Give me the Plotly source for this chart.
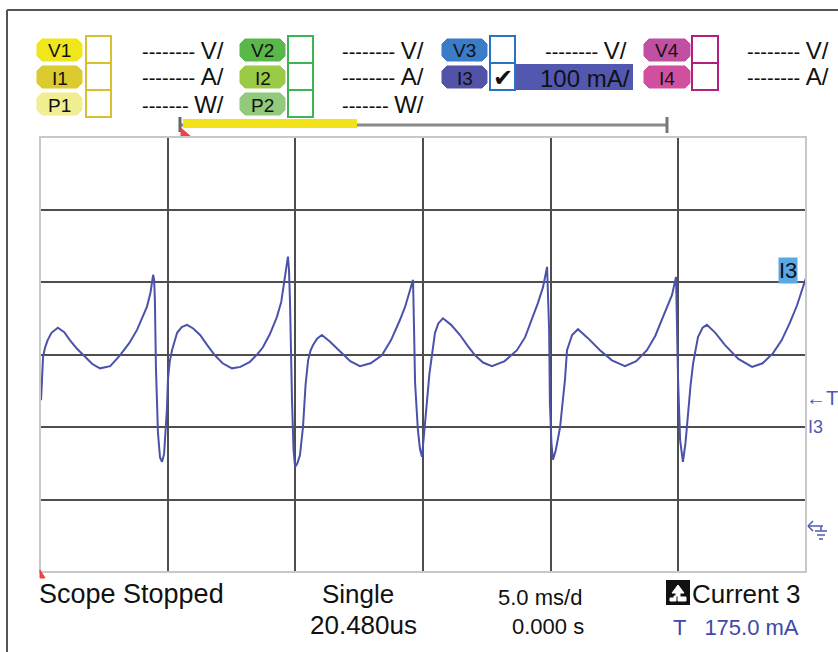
import plotly.graph_objects as go

# ---- data (time in ms, current in mA) ----
time_ms = [0.04, 0.08, 0.12, 0.20, 0.30, 0.45, 0.70, 0.95, 1.17, 1.45, 1.76, 2.05, 2.35, 2.75, 3.13, 3.50,
           3.80, 4.05, 4.19, 4.33, 4.43, 4.47, 4.50, 4.54, 4.62, 4.70, 4.78, 4.86, 4.93, 4.97, 5.01, 5.08,
           5.17, 5.37, 5.55, 5.76, 6.00, 6.27, 6.55, 6.85, 7.15, 7.52, 7.85, 8.22, 8.50, 8.73, 9.00, 9.28,
           9.45, 9.52, 9.62, 9.71, 9.75, 9.79, 9.87, 9.93, 9.99, 10.08, 10.18, 10.30, 10.40, 10.50, 10.60,
           10.69, 10.85, 11.04, 11.35, 11.75, 12.15, 12.53, 12.95, 13.39, 13.75, 14.10, 14.30, 14.41, 14.55,
           14.61, 14.65, 14.69, 14.80, 14.88, 14.96, 15.06, 15.16, 15.25, 15.35, 15.47, 15.60, 15.78, 16.10,
           16.45, 16.75, 17.04, 17.35, 17.70, 18.20, 18.68, 19.00, 19.31, 19.50, 19.70, 19.80, 19.86, 19.94,
           19.97, 20.03, 20.09, 20.20, 20.37, 20.48, 20.56, 20.64, 20.84, 21.07, 21.45, 21.93, 22.40, 22.91,
           23.35, 23.77, 24.10, 24.40, 24.60, 24.75, 24.91, 24.95, 24.99, 25.07, 25.18, 25.28, 25.38, 25.48,
           25.58, 25.77, 25.95, 26.12, 26.45, 26.83, 27.35, 27.89, 28.30, 28.71, 29.05, 29.37, 29.65, 29.88,
           30.0]
current_mA = [179, 215, 239, 252, 262, 272, 279, 273, 262, 250, 239, 229, 223, 226, 241, 258,
              276, 295, 308, 328, 352, 345, 317, 225, 134, 100, 94, 105, 140, 166, 207, 232,
              248, 272, 280, 283, 278, 269, 255, 241, 230, 223, 225, 232, 242, 252, 270, 294,
              315, 331, 355, 377, 360, 317, 179, 110, 87, 92, 103, 142, 200, 234, 248,
              255, 264, 269, 260, 246, 233, 226, 230, 241, 262, 290, 308, 321, 338,
              345, 276, 203, 138, 112, 101, 135, 179, 215, 239, 272, 285, 292, 283,
              269, 254, 241, 231, 226, 233, 248, 266, 294, 313, 335, 352, 363, 276,
              175, 120, 97, 110, 142, 180, 207, 248, 269, 277, 265, 248, 234, 226,
              233, 248, 268, 294, 312, 324, 349, 276, 207, 124, 94, 120, 161, 200,
              230, 266, 279, 283, 272, 255, 236, 225, 230, 244, 262, 286, 310, 335,
              348]

channels_row1 = ["V1", "V2", "V3", "V4"]
channels_row2 = ["I1", "I2", "I3", "I4"]
channels_row3 = ["P1", "P2"]
i3_scale = "100 mA/"
timebase = "5.0 ms/d"
trigger_level = "175.0 mA"

W, H = 838, 652
L, R, T, B = 40, 806, 137, 572
FONT = "Liberation Sans, Arial, sans-serif"


def X(px):
    return (px - L) / (R - L)


def Y(py):
    return (B - py) / (B - T)


fig = go.Figure()
fig.add_trace(go.Scatter(x=time_ms, y=current_mA, mode="lines",
                         line=dict(color="#4a52aa", width=2), hoverinfo="skip",
                         showlegend=False))

shapes = []
ann = []


def rect(x0, y0, x1, y1, fill=None, line=None, lw=1.5, layer="above"):
    shapes.append(dict(type="rect", xref="paper", yref="paper", x0=X(x0), x1=X(x1), y0=Y(y1), y1=Y(y0),
                       fillcolor=fill if fill else "rgba(0,0,0,0)",
                       line=dict(color=line if line else "rgba(0,0,0,0)", width=lw if line else 0),
                       layer=layer))


def seg(x0, y0, x1, y1, color, w):
    shapes.append(dict(type="line", xref="paper", yref="paper", x0=X(x0), x1=X(x1), y0=Y(y0), y1=Y(y1),
                       line=dict(color=color, width=w), layer="above"))


def poly(pts, fill, line=None):
    p = "M " + " L ".join(f"{X(a):.5f},{Y(b):.5f}" for a, b in pts) + " Z"
    shapes.append(dict(type="path", xref="paper", yref="paper", path=p, fillcolor=fill,
                       line=dict(color=line if line else fill, width=1), layer="above"))


def text(px, py, s, size, color="#111", xanchor="center", bg=None, font=FONT):
    ann.append(dict(x=X(px), y=Y(py), xref="paper", yref="paper", text=s, showarrow=False,
                    xanchor=xanchor, yanchor="middle", font=dict(family=font, size=size, color=color),
                    bgcolor=bg, borderpad=0))


def badge(x0, x1, y0, y1, fill, label):
    c = 5
    poly([(x0 + c, y0), (x1 - c, y0), (x1, y0 + c), (x1, y1 - c), (x1 - c, y1), (x0 + c, y1),
          (x0, y1 - c), (x0, y0 + c)], fill)
    text((x0 + x1) / 2, (y0 + y1) / 2 + 1, label, 19, "#111")


# outer frame
seg(7, 10, 838, 10, "#555", 2)
seg(7, 10, 7, 652, "#555", 2)

# header badges
cols = [(37, 82, 86, 111, 225), (240, 285, 288, 313, 425), (442, 487, 490, 515, 628), (644, 690, 692, 718, 830)]
rows = [(39, 61), (66, 88), (93, 115)]
fills = {
    "V1": "#f0e61c", "I1": "#dccb2e", "P1": "#f2ee92",
    "V2": "#5ab74a", "I2": "#9bca46", "P2": "#92c97a",
    "V3": "#3b7cc9", "I3": "#5252a8",
    "V4": "#c14fa2", "I4": "#d14f9f",
}
boxcol = ["#d6c22e", "#3fb454", "#2b72c2", "#b41f7c"]
units = ["V/", "A/", "W/"]
row_lists = [channels_row1, channels_row2, channels_row3]
for ci, (bx0, bx1, kx0, kx1, tx) in enumerate(cols):
    nrows = 3 if ci < 2 else 2
    for ri in range(nrows):
        lab = row_lists[ri][ci]
        y0, y1 = rows[ri]
        badge(bx0, bx1, y0, y1, fills[lab], lab)
    top = 36
    for ri in range(nrows):
        rect(kx0, top + 27 * ri, kx1, top + 27 * (ri + 1), fill="white", line=boxcol[ci], lw=2)
    for ri in range(nrows):
        if ci == 2 and ri == 1:
            continue
        yc = (rows[ri][0] + rows[ri][1]) / 2
        dash = "-------" if ri == 2 else "--------"
        s = dash + "&nbsp;<span style='font-size:24px'>" + units[ri] + "</span>"
        text(tx, yc, s, 20, "#111", xanchor="right")

# highlighted I3 scale
rect(515, 64, 633, 90, fill="#5257b0", line=None)
rect(490, 63, 515, 90, fill="white", line="#2b72c2", lw=2)
text(503, 78, "✔", 24, "#111", font="DejaVu Sans")
text(631, 78, i3_scale, 24, "#111", xanchor="right")

# timeline bar
seg(180, 125, 667, 125, "#8a8a8a", 3)
rect(183, 119, 357, 128, fill="#f2e21a")
seg(180, 117, 180, 132, "#666", 3)
seg(667, 117, 667, 133, "#777", 3)
poly([(181, 128), (190, 136), (181, 136)], "#f04040")

# grid border (light) drawn over edge gridlines
rect(L, T, R, B, line="#c8c8c8", lw=2)
poly([(40, 570), (45, 578), (40, 578)], "#f04040")

# right-side markers
text(788, 270, "I3", 22, "#111", bg="#5aa8e6")
text(805, 398, "←T", 20, "#5058b0", xanchor="left")
text(807, 427, "I3", 18, "#5058b0", xanchor="left")
seg(808, 526, 823, 526, "#5058b0", 1.5)
seg(808, 526, 813, 521, "#5058b0", 1.5)
seg(808, 526, 813, 531, "#5058b0", 1.5)
seg(815, 531, 827, 531, "#5058b0", 1.5)
seg(817, 535, 825, 535, "#5058b0", 1.5)
seg(819, 539, 823, 539, "#5058b0", 1.5)
seg(821, 526, 821, 531, "#5058b0", 1.5)

# bottom status texts
text(38, 594, "Scope Stopped", 27, "#111", xanchor="left")
text(358, 594, "Single", 26, "#111")
text(363, 625, "20.480us", 26, "#111")
text(540, 597, timebase, 22, "#111")
text(585, 626, "0.000 s", 22, "#111", xanchor="right")
rect(666, 580, 690, 605, fill="#111")
poly([(670, 601), (676, 601), (676, 593), (672, 593), (678, 585), (684, 593), (680, 593),
      (680, 597), (686, 597), (686, 601), (678, 601), (678, 596), (674, 596), (674, 598), (670, 598)], "white")
text(691, 594, "Current 3", 26, "#111", xanchor="left")
text(672, 627, "T   " + trigger_level, 22, "#4048a8", xanchor="left")

fig.update_layout(
    width=W, height=H,
    margin=dict(l=L, r=W - R, t=T, b=H - B, pad=0),
    paper_bgcolor="white", plot_bgcolor="white",
    xaxis=dict(range=[0, 30], tick0=0, dtick=5, showgrid=True, gridcolor="#4e4e4e", gridwidth=2,
               showticklabels=False, ticks="", zeroline=False, showline=False, fixedrange=True),
    yaxis=dict(range=[-57.9, 542.1], tick0=-57.9, dtick=100, showgrid=True, gridcolor="#4e4e4e",
               gridwidth=2, showticklabels=False, ticks="", zeroline=False, showline=False, fixedrange=True),
    shapes=shapes, annotations=ann, showlegend=False,
)

fig.write_html("out.html", config={"displayModeBar": False},
               post_script="document.body.style.margin='0px';document.body.style.overflow='hidden';")
